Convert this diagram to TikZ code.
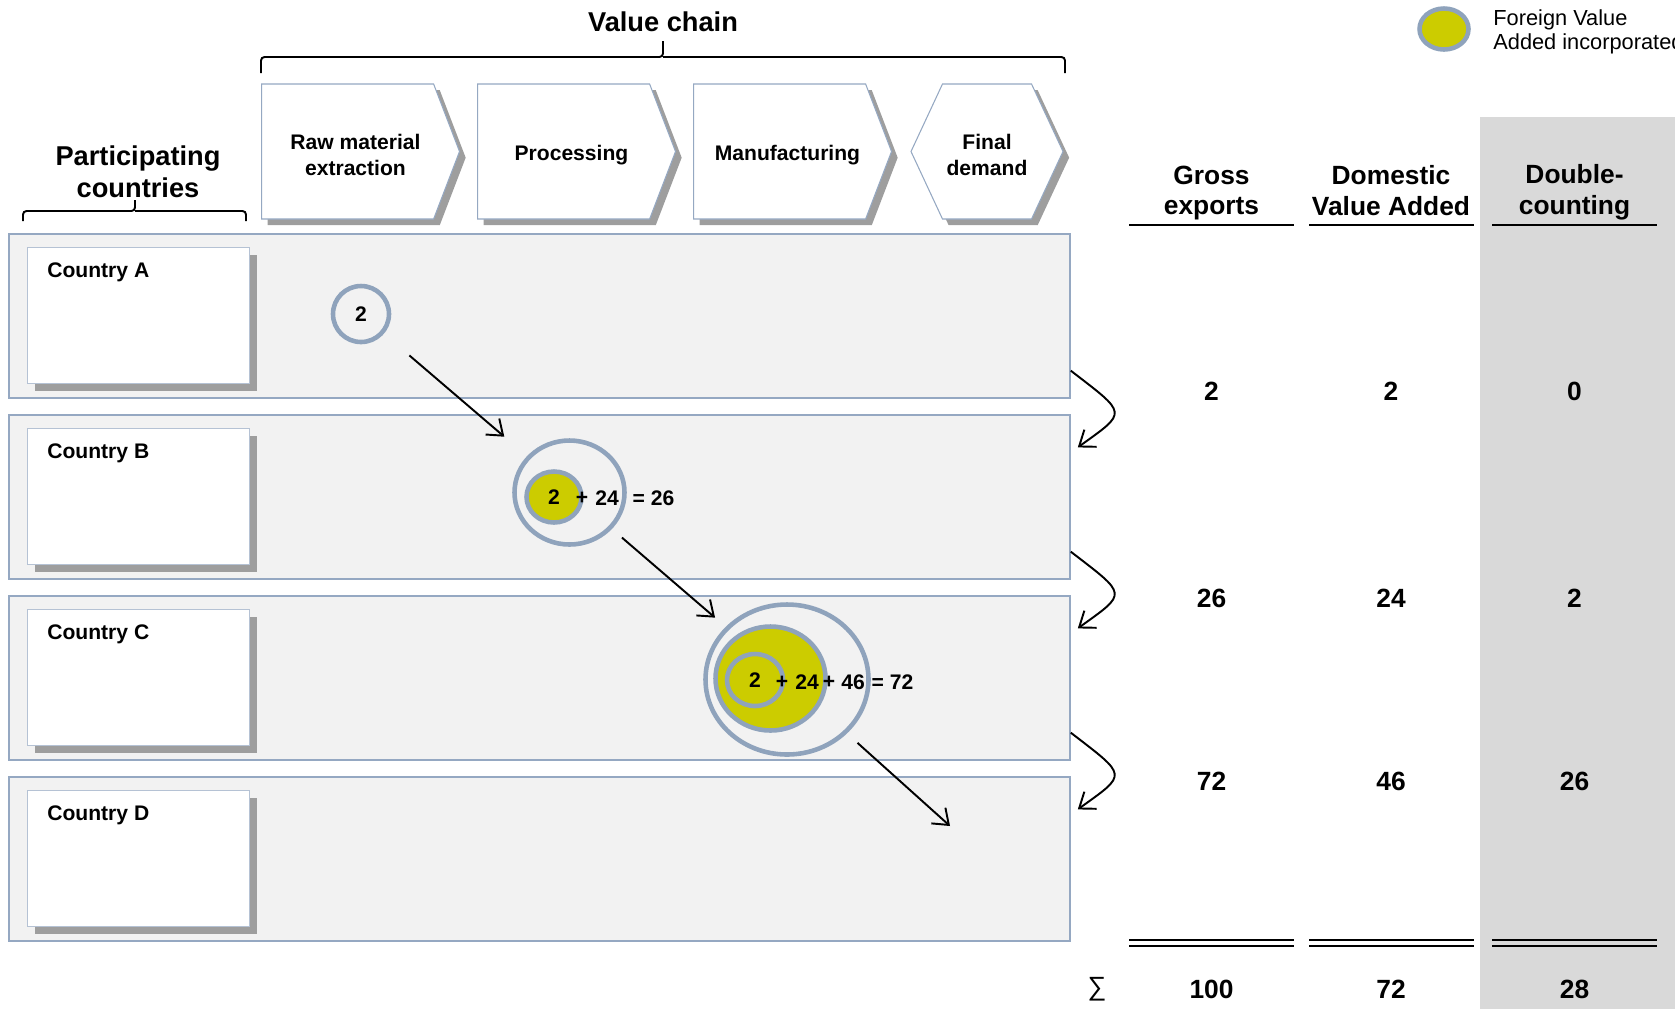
\documentclass[tikz,border=0pt]{standalone}
\usepackage{fontspec}
\setmainfont{Liberation Sans}
\usetikzlibrary{shapes.geometric}
\usetikzlibrary{shapes.symbols}
\usetikzlibrary{shadows}
\usetikzlibrary{arrows.meta}
\definecolor{frameblue}{RGB}{149,168,194}
\definecolor{ringblue}{RGB}{143,163,188}
\definecolor{fva}{RGB}{204,204,0}
\definecolor{bandfill}{RGB}{242,242,242}
\definecolor{dcgray}{RGB}{217,217,217}
\definecolor{shade}{RGB}{158,158,158}

\begin{document}
\begin{tikzpicture}[x=0.02cm,y=-0.02cm]
			\def\pxl{0.02cm}
			\def\pitch{181}
			\tikzset{
				txt/.style={font=\fontsize{12}{14.4}\selectfont\bfseries, inner sep=0pt},
				head/.style={font=\fontsize{15}{17.6}\selectfont\bfseries, align=center, inner sep=0pt},
				val/.style={font=\fontsize{15}{17}\selectfont\bfseries, inner sep=0pt},
				band/.style={draw=frameblue, line width=1pt, fill=bandfill, anchor=north west, inner sep=0pt, minimum width=1061*\pxl, minimum height=164*\pxl},
				cbox/.style={draw=frameblue!70, line width=0.6pt, fill=white, anchor=north west, inner sep=0pt, minimum width=222*\pxl, minimum height=136*\pxl, drop shadow={shadow xshift=4pt, shadow yshift=-4pt, fill=shade, opacity=1}},
				stage/.style={signal, signal pointer angle=138, draw=frameblue, line width=0.6pt, fill=white, inner sep=0pt, minimum width=198*\pxl, minimum height=135*\pxl, drop shadow={shadow xshift=3.5pt, shadow yshift=-3.5pt, fill=shade, opacity=1}},
				ring/.style={ellipse, draw=ringblue, line width=2.6pt, inner sep=0pt},
				flow/.style={line width=1.1pt, -{Straight Barb[length=8pt, width=12pt, line width=1.1pt]}},
				brace/.style={line width=1.1pt, rounded corners=2pt},
				headrule/.style={line width=1.5pt},
			}
			\useasboundingbox (0,0) rectangle (1675,1009);
			\fill[dcgray] (1480,117) rectangle (1675,1009);
			% legend
			\node[ring, fill=fva, minimum width=49*\pxl, minimum height=41*\pxl] (key) at (1444,29) {};
			\node[font=\fontsize{12.4}{14}\selectfont, align=left, anchor=west, inner sep=0pt] (keytxt) at (1493,32) {Foreign Value\\Added incorporated};
			% headings and brackets
			\node[head, font=\fontsize{15.5}{18}\selectfont\bfseries] (hV) at (663,22) {Value chain};
			\draw[brace] (261,73) -- (261,57) -- (663,57) -- (663,41);
			\draw[brace] (663,57) -- (1065,57) -- (1065,73);
			\node[head, font=\fontsize{15.5}{18}\selectfont\bfseries] (hP) at (138,172) {Participating\\countries};
			\draw[brace] (23,221) -- (23,211) -- (135,211) -- (135,200);
			\draw[brace] (135,211) -- (246,211) -- (246,221);
			% value chain stages
			\foreach\t [count=\i from 0] in {{Raw material\\extraction},Processing,Manufacturing}{
				\node[stage, anchor=west] (st\i) at (261+216*\i,151.5) {};
				\node[txt, align=center] (lb\i) at ([xshift=4.5pt, yshift=-2pt]st\i.center) {\t};
			}
			\node[stage, signal to=west and east, signal pointer angle=130, minimum width=152*\pxl] (st3) at (987,151.5) {};
			\node[txt, align=center] (lb3) at ([yshift=-2pt]st3.center) {Final\\demand};
			% countries
			\foreach\c [count=\i from 0] in {A,B,C,D}{
				\pgfmathsetmacro\ytop{233+\pitch*\i}
				\node[band] (band\c) at (8,\ytop) {};
				\node[cbox] (box\c) at (27,\ytop+14) {};
				\node[txt, anchor=base west] (name\c) at (47,\ytop+44) {Country \c};
			}
			% value added rings
			\node[ring, txt, minimum width=56*\pxl, minimum height=56*\pxl] (cA) at (361,314) {2};
			\node[ring, minimum width=110*\pxl, minimum height=104*\pxl] (cB) at (569.5,492.5) {};
			\node[ring, txt, fill=fva, minimum width=55*\pxl, minimum height=51*\pxl] (cB1) at (554,497) {2};
			\node[txt] (pB1) at (582,498) {+};
			\node[txt] (nB2) at (607,498) {24};
			\node[txt] (sB) at (653.5,498) {= 26};
			\node[ring, minimum width=163*\pxl, minimum height=150*\pxl] (cC) at (787,679.5) {};
			\node[ring, fill=fva, minimum width=110*\pxl, minimum height=104*\pxl] (cC2) at (770.5,678.5) {};
			\node[ring, txt, minimum width=56*\pxl, minimum height=52*\pxl] (cC1) at (755,680) {2};
			\node[txt] (pC1) at (782,682) {+};
			\node[txt] (nC2) at (807,682) {24};
			\node[txt] (pC2) at (829,682) {+};
			\node[txt] (nC3) at (853,682) {46};
			\node[txt] (sC) at (892.5,682) {= 72};
			\coordinate (endD) at (950,826);
			\draw[flow, shorten <=19pt, shorten >=17pt] (cA) -- (cB);
			\draw[flow, shorten <=7.5pt, shorten >=8pt] (cB) -- (cC);
			\draw[flow, shorten <=8pt] (cC) -- (endD);
			% exports to next country
			\foreach\a/\b in {A/B,B/C,C/D}{
				\draw[flow] ([yshift=16pt]band\a.south east) .. controls +(57,44) and +(50,-36) .. ([xshift=4pt, yshift=-19pt]band\b.north east);
			}
			% table
			\node[head] (hG) at (1211.5,193) {Gross\\exports};
			\node[head] (hD) at (1391,191) {Domestic\\Value Added};
			\node[head] (hC) at (1574.5,192.5) {Double-\\counting};
			\foreach\x in {1129,1309,1492}{
				\draw[headrule] (\x,225) -- (\x+165,225);
				\draw[line width=1.1pt] (\x,940) -- (\x+165,940);
				\draw[line width=1.1pt] (\x,946) -- (\x+165,946);
			}
			\foreach\y/\g/\d/\k [count=\i] in {391/2/2/0,598/26/24/2,781/72/46/26}{
				\node[val] (g\i) at (1211.5,\y) {\g};
				\node[val] (d\i) at (1391,\y) {\d};
				\node[val] (k\i) at (1574.5,\y) {\k};
			}
			\node[font=\fontsize{15}{17}\selectfont, inner sep=0pt] (sum) at (1097,989) {∑};
			\node[val] (gs) at (1211.5,989) {100};
			\node[val] (ds) at (1391,989) {72};
			\node[val] (ks) at (1574.5,989) {28};
		\end{tikzpicture}
\end{document}
